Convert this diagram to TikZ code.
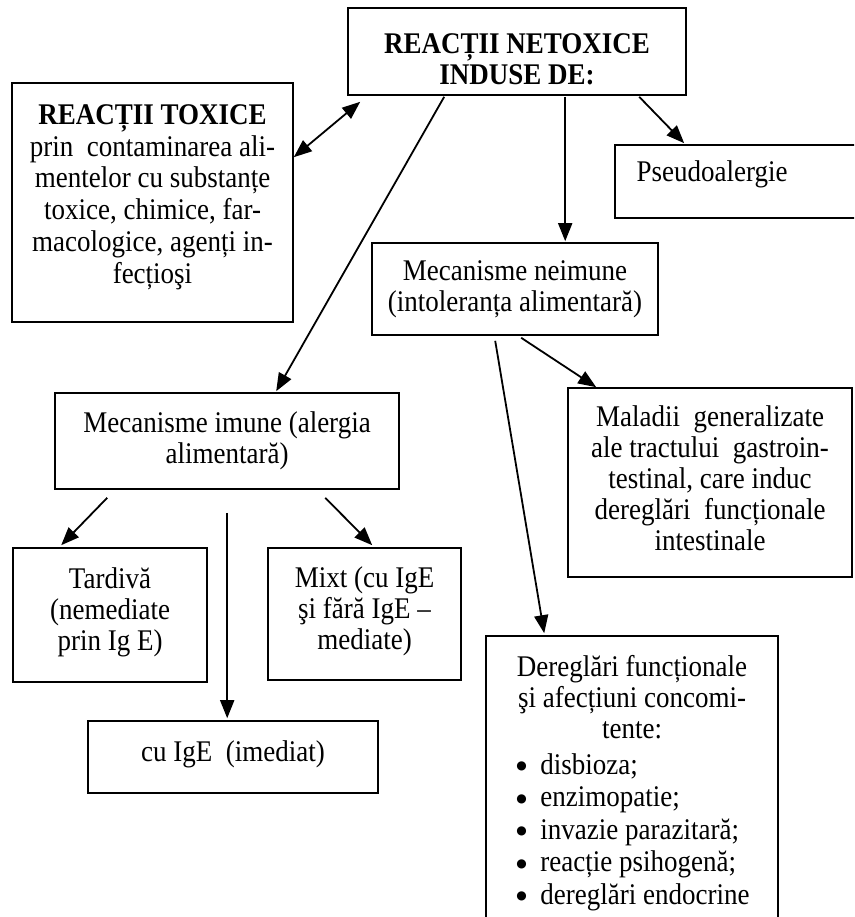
\documentclass[tikz,border=0pt]{standalone}
\usepackage{fontspec}
\setmainfont{Liberation Serif}[FakeStretch=0.9]
\newfontfamily\dejavu{DejaVu Sans}
\usetikzlibrary{arrows.meta,calc,fit}
\newcommand{\bul}{\raisebox{4.5pt}{{\dejavu\fontsize{12}{13}\selectfont ●}}}
\begin{document}
\begin{tikzpicture}[x=1pt,y=-1pt,
  box/.style={draw, line width=1.6pt, inner sep=0pt},
  txt/.style={align=center, font=\fontsize{30}{31}\selectfont, inner sep=0pt},
  listtxt/.style={align=left, font=\fontsize{30}{32.5}\selectfont, inner sep=0pt},
  arr/.style={line width=1.8pt, -{Triangle[length=18pt,width=14pt]}},
  darr/.style={line width=1.8pt, {Triangle[length=18pt,width=14pt]}-{Triangle[length=18pt,width=14pt]}},
]
\clip (0,0) rectangle (854,917);
\fill[white] (0,0) rectangle (854,917);
% boxes
\node[box, fit={(348,8)(686,95)}] (top) {};
\node[box, fit={(12,83)(293,322)}] (tox) {};
\node[box, fit={(615,145)(862,218)}] (pseudo) {};
\node[box, fit={(372,243)(658,335)}] (neim) {};
\node[box, fit={(55,393)(399,489)}] (imune) {};
\node[box, fit={(568,388)(852,577)}] (mal) {};
\node[box, fit={(13,548)(207,682)}] (tard) {};
\node[box, fit={(268,548)(461,680)}] (mixt) {};
\node[box, fit={(88,721)(378,793)}] (cuige) {};
\node[box, fit={(486,636)(778,930)}] (dereg) {};
% texts
\node[txt, font=\fontsize{30}{31}\selectfont\bfseries] (toptxt) at ($(top)+(0,8)$) {REACȚII NETOXICE\\INDUSE DE:};
\node[txt, font=\fontsize{30}{31.8}\selectfont, anchor=north] (toxtxt) at ($(tox.north)+(0,22)$) {\textbf{REACȚII TOXICE}\\prin\ \ contaminarea ali-\\mentelor cu substanțe\\toxice, chimice, far-\\macologice, agenți in-\\fecțioşi};
\node[txt] (pseudotxt) at ($(pseudo.west)+(98,-7)$) {Pseudoalergie};
\node[txt] (neimtxt) at (neim) {Mecanisme neimune\\(intoleranța alimentară)};
\node[txt] (imunetxt) at (imune) {Mecanisme imune (alergia\\alimentară)};
\node[txt] (maltxt) at ($(mal)+(0,-4)$) {Maladii\ \ generalizate\\ale tractului\ \ gastroin-\\testinal, care induc\\dereglări\ \ funcționale\\intestinale};
\node[txt] (tardtxt) at ($(tard)+(0,-3)$) {Tardivă\\(nemediate\\prin Ig E)};
\node[txt] (mixttxt) at ($(mixt)+(0,-3)$) {Mixt (cu IgE\\şi fără IgE –\\mediate)};
\node[txt] (cuigetxt) at ($(cuige)+(0,-3)$) {cu IgE\ \ (imediat)};
\node[txt, anchor=north] (deregtxt) at ($(dereg.north)+(0,20)$) {Dereglări funcționale\\şi afecțiuni concomi-\\tente:};
\node[listtxt, anchor=north west] (dereglist) at ($(dereg.north west)+(31,118)$) {\bul\ \ disbioza;\\\bul\ \ enzimopatie;\\\bul\ \ invazie parazitară;\\\bul\ \ reacție psihogenă;\\\bul\ \ dereglări endocrine};
% connectors
\draw[darr] ($(tox.north east)+(0,75)$) -- ($(top.south west)+(13,6)$);
\draw[arr] ($(top.south west)+(97,1)$) -- ($(imune.north west)+(222,-1)$);
\draw[arr] ($(top.south west)+(218,1)$) -- ($(neim.north west)+(194,-1)$);
\draw[arr] ($(top.south west)+(292,1)$) -- ($(pseudo.north west)+(70,-1)$);
\draw[arr] ($(neim.south west)+(150,2)$) -- ($(mal.north west)+(29,0)$);
\draw[arr] ($(neim.south west)+(124,5)$) -- ($(dereg.north west)+(59,-2)$);
\draw[arr] ($(imune.south west)+(53,8)$) -- ($(tard.north west)+(49,-2)$);
\draw[arr] ($(imune.south west)+(173,23)$) -- ($(cuige.north west)+(140,-2)$);
\draw[arr] ($(imune.south west)+(271,8)$) -- ($(mixt.north west)+(105,-2)$);
\end{tikzpicture}
\end{document}
